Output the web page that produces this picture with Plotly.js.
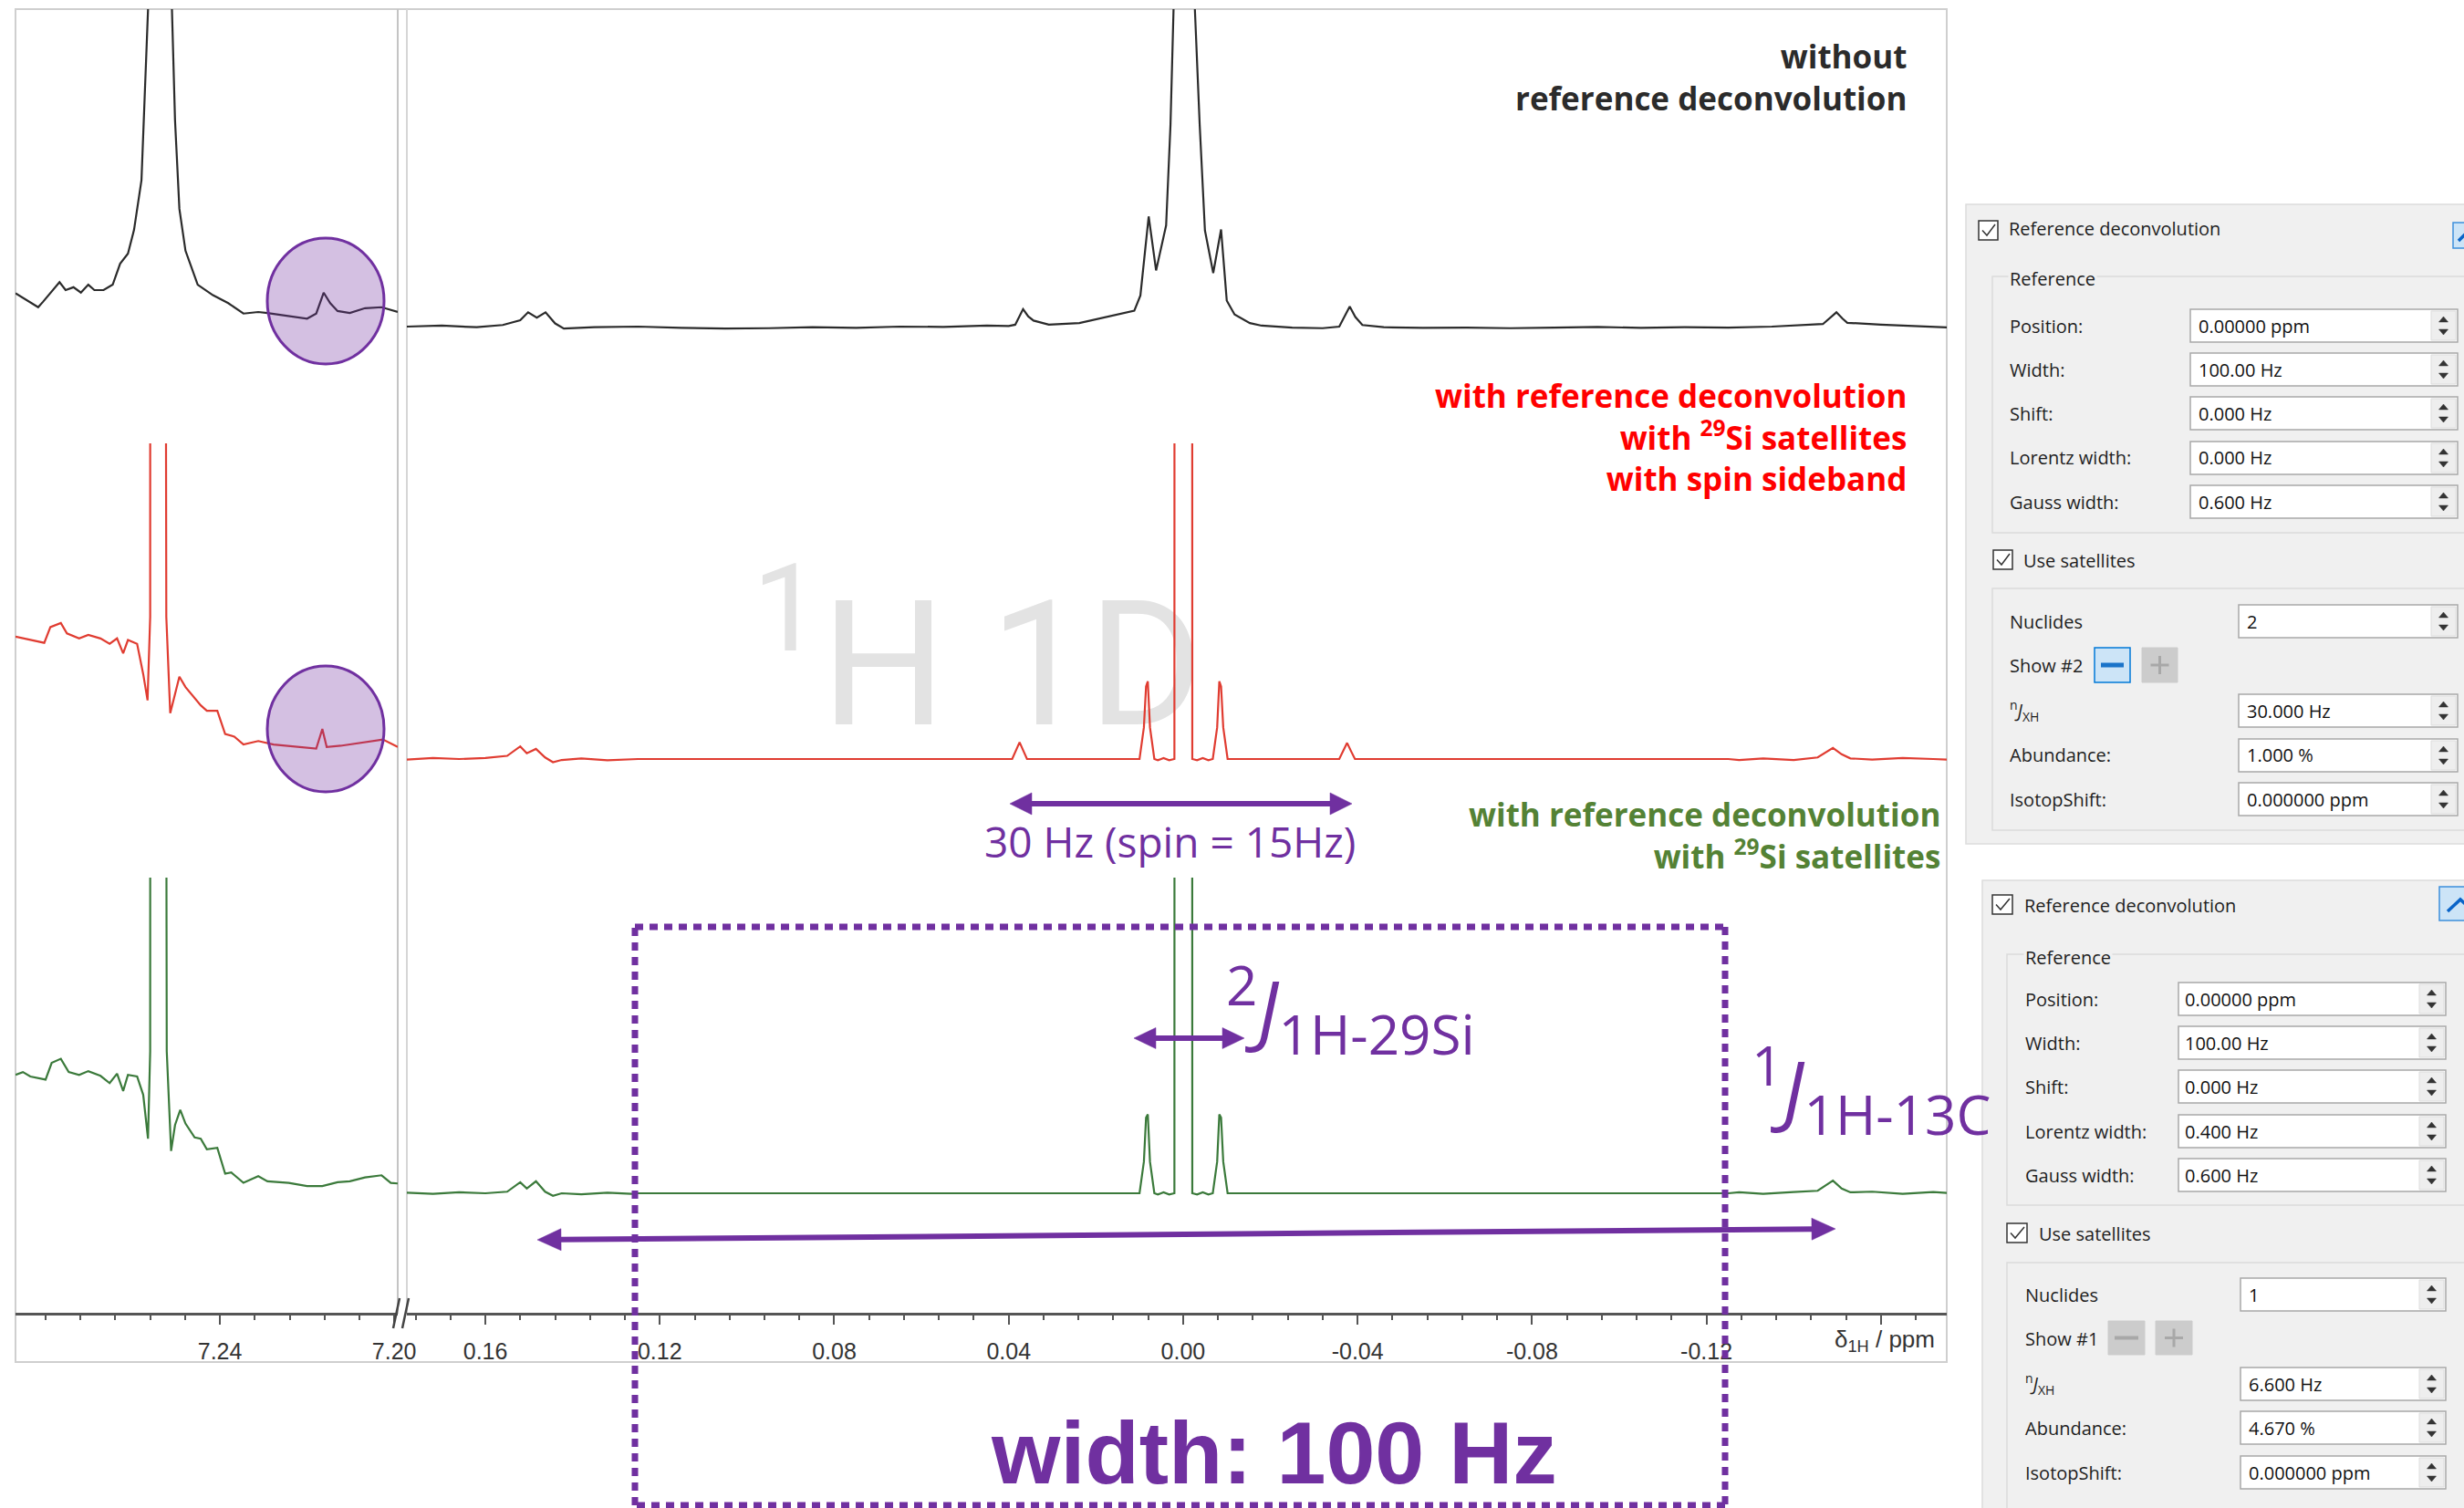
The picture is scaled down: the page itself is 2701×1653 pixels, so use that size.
<!DOCTYPE html>
<html><head><meta charset="utf-8">
<script src="https://cdn.plot.ly/plotly-3.0.1.min.js"></script>
<style>html,body{margin:0;padding:0;background:#fff;overflow:hidden}</style>
</head><body><div id="chart" style="width:2701px;height:1653px"></div>
<script>
const W=2701,H=1653;
// ---------------- DATA (ppm, intensity) ----------------
const blackLeftPpm=[7.2869,7.2841,7.2817,7.2806,7.2789,7.2768,7.2754,7.2736,7.2719,7.2702,7.2688,7.2667,7.2646,7.2629,7.2611,7.2597,7.2580,7.2573,7.2565,7.2540,7.2510,7.2503,7.2493,7.2479,7.2451,7.2416,7.2381,7.2346,7.2312,7.2291,7.2242,7.2200,7.2179,7.2162,7.2147,7.2130,7.2102,7.2067,7.2029,7.2012,7.1992];
const blackLeftInt=[10.5,8.2,6.1,7.8,10.7,14.0,11.5,12.4,10.7,13.2,11.5,11.5,13.2,19.8,23.0,30.5,46.1,70.0,99.6,400,99.6,65.0,37.1,23.9,13.2,9.9,7.4,4.1,4.6,4.3,3.3,2.5,4.1,10.7,7.4,4.9,4.3,5.8,6.1,5.4,4.6];
const blackRightPpm=[0.178,0.170,0.162,0.156,0.152,0.1502,0.1482,0.1462,0.1440,0.1420,0.135,0.125,0.115,0.105,0.095,0.085,0.075,0.065,0.055,0.045,0.040,0.0385,0.0367,0.0355,0.0343,0.0320,0.0308,0.0238,0.0168,0.0133,0.0112,0.0098,0.0079,0.0062,0.0039,0.0029,0.0022,0.0000,-0.0027,-0.0038,-0.0050,-0.0069,-0.0087,-0.0100,-0.0118,-0.0153,-0.0180,-0.0250,-0.0320,-0.0358,-0.0382,-0.0395,-0.0411,-0.0460,-0.055,-0.065,-0.075,-0.085,-0.095,-0.105,-0.115,-0.125,-0.135,-0.1467,-0.1498,-0.1512,-0.1523,-0.160,-0.166,-0.172,-0.176];
const blackRightInt=[0.0,0.3,-0.2,0.5,2.0,4.5,2.8,4.5,1.0,-0.6,-0.2,0.0,-0.4,-0.6,-0.5,-0.2,-0.4,0.0,-0.1,0.3,0.2,0.6,5.5,3.2,1.9,1.0,0.6,1.1,3.2,4.3,5.0,9.8,34.7,17.7,31.9,63.5,99.8,500,99.8,63.5,30.3,16.9,30.6,8.2,3.8,1.1,0.3,-0.3,-0.5,0.0,6.3,3.0,0.5,-0.2,-0.4,-0.3,-0.5,-0.3,-0.1,-0.4,-0.2,-0.3,0.0,0.8,4.5,2.5,1.2,0.6,0.2,-0.2,-0.3];
const redLeftPpm=[7.2869,7.2835,7.2803,7.2789,7.2765,7.2751,7.2723,7.2702,7.2674,7.2653,7.2636,7.2622,7.2611,7.2590,7.2576,7.2566,7.2560,7.2558,7.2526,7.2523,7.2514,7.2503,7.2493,7.2479,7.2458,7.2444,7.2430,7.2406,7.2388,7.2367,7.2346,7.2312,7.2277,7.2207,7.2179,7.2165,7.2155,7.2123,7.2067,7.2026,7.1992];
const redLeftInt=[38.8,37.7,36.8,41.8,43.1,39.8,38.2,39.3,38.2,36.5,38.2,33.5,37.7,36.5,26.9,18.6,45,3000,3000,45,14.5,20.3,26.1,22.8,19.5,17.0,15.3,15.3,7.9,7.1,4.6,5.7,4.6,3.8,3.3,9.5,3.8,4.2,5.4,6.2,3.8];
const redRightPpm=[0.178,0.172,0.166,0.160,0.155,0.152,0.1505,0.1484,0.1463,0.1445,0.1425,0.138,0.132,0.1265,0.1250,0.0392,0.0384,0.0375,0.0366,0.0358,0.0100,0.0090,0.0085,0.0081,0.0076,0.0066,0.0058,0.0045,0.0032,0.0020,0.0016,-0.0017,-0.0021,-0.0032,-0.0045,-0.0058,-0.0068,-0.0078,-0.0083,-0.0087,-0.0092,-0.0102,-0.0358,-0.0367,-0.0376,-0.0385,-0.0394,-0.1250,-0.1275,-0.133,-0.140,-0.1455,-0.1490,-0.1510,-0.1530,-0.158,-0.165,-0.172,-0.176];
const redRightInt=[-0.2,0.3,0.0,0.3,1.0,4.0,1.8,3.2,0.5,-1.0,-0.3,0.2,-0.4,0.0,0.0,0.0,2.5,5.3,2.5,0.0,0.0,10,23,24.6,10,0.0,-0.4,0.3,-0.4,0.0,3000,3000,0.0,-0.4,0.3,-0.4,0.0,10,24.6,23,10,0.0,0.0,2.5,5.1,2.5,0.0,0.0,-0.3,0.2,-0.3,0.5,3.5,1.5,0.2,-0.2,0.3,0.0,-0.2];
const greenLeftPpm=[7.2869,7.2852,7.2835,7.2800,7.2786,7.2765,7.2747,7.2723,7.2702,7.2674,7.2653,7.2636,7.2622,7.2611,7.2590,7.2576,7.2565,7.2560,7.2557,7.2526,7.2522,7.2512,7.2503,7.2491,7.2479,7.2458,7.2444,7.2430,7.2406,7.2388,7.2374,7.2346,7.2312,7.2291,7.2242,7.2200,7.2165,7.2130,7.2102,7.2067,7.2029,7.2008,7.1992];
const greenLeftInt=[37.5,38.4,37.0,36.0,41.3,42.6,38.4,37.5,38.7,37.2,34.9,37.9,32.4,37.5,37.0,31.2,17.3,45,3000,3000,45,13.4,21.6,26.4,22.1,17.7,17.3,13.9,14.4,6.2,6.6,3.3,5.4,3.8,3.3,2.3,2.3,3.5,3.8,5.0,5.7,3.3,3.1];
const greenRightPpm=[0.178,0.172,0.166,0.160,0.155,0.152,0.1505,0.1484,0.1463,0.1445,0.1425,0.138,0.132,0.1265,0.1250,0.0100,0.0090,0.0085,0.0081,0.0076,0.0066,0.0058,0.0045,0.0032,0.0020,0.0016,-0.0017,-0.0021,-0.0032,-0.0045,-0.0058,-0.0068,-0.0078,-0.0083,-0.0087,-0.0092,-0.0102,-0.1250,-0.1275,-0.133,-0.140,-0.1455,-0.1490,-0.1510,-0.1530,-0.158,-0.165,-0.172,-0.176];
const greenRightInt=[0.2,-0.2,0.3,0.0,0.5,3.5,1.5,3.8,0.5,-0.8,0.0,-0.3,0.2,-0.2,0.0,0.0,10,24,25,10,0.0,-0.4,0.3,-0.4,0.0,3000,3000,0.0,-0.4,0.3,-0.4,0.0,10,25,24,10,0.0,0.0,0.3,-0.2,0.4,0.8,4.0,1.5,0.3,0.5,-0.2,0.4,0.0];
// tick labels
const leftTickVals=[7.24,7.20], leftTickText=['7.24','7.20'];
const rightTickVals=[0.16,0.12,0.08,0.04,0,-0.04,-0.08,-0.12,-0.16];
const rightTickText=['0.16','0.12','0.08','0.04','0.00','-0.04','-0.08','-0.12',' '];
// panel texts
const rowLabels=['Position:','Width:','Shift:','Lorentz width:','Gauss width:'];
const panel1Values=['0.00000 ppm','100.00 Hz','0.000 Hz','0.000 Hz','0.600 Hz'];
const panel1Sat=['2','Show #2','30.000 Hz','1.000 %','0.000000 ppm'];
const panel2Values=['0.00000 ppm','100.00 Hz','0.000 Hz','0.400 Hz','0.600 Hz'];
const panel2Sat=['1','Show #1','6.600 Hz','4.670 %','0.000000 ppm'];
const blackLabel=['without','reference deconvolution'];
const redLabel=['with reference deconvolution','with <sup>29</sup>Si satellites','with spin sideband'];
const greenLabel=['with reference deconvolution','with <sup>29</sup>Si satellites'];

// ---------------- helpers ----------------
const X=p=>p/W, Y=p=>1-p/H;
const shapes=[], ann=[];
const UI='Open Sans, Noto Sans, sans-serif';
const PURPLE='#7030a0';
function R(x0,y0,x1,y1,fill,lc,lw,layer,dash){shapes.push({type:'rect',xref:'paper',yref:'paper',x0:X(x0),x1:X(x1),y0:Y(y1),y1:Y(y0),fillcolor:fill||'rgba(0,0,0,0)',line:{color:lc||'rgba(0,0,0,0)',width:(lw===undefined?1:lw),dash:dash||'solid'},layer:layer||'above'});}
function L(x0,y0,x1,y1,c,w,dash,layer){shapes.push({type:'line',xref:'paper',yref:'paper',x0:X(x0),y0:Y(y0),x1:X(x1),y1:Y(y1),line:{color:c,width:w,dash:dash||'solid'},layer:layer||'above'});}
function P(pts,fill,lc,lw,closed){const d=pts.map((p,i)=>(i?'L':'M')+X(p[0]).toFixed(6)+','+Y(p[1]).toFixed(6)).join('')+(closed===false?'':'Z');shapes.push({type:'path',xref:'paper',yref:'paper',path:d,fillcolor:fill||'rgba(0,0,0,0)',line:{color:lc||'rgba(0,0,0,0)',width:lw||0}});}
function T(text,x,y,size,color,anchor,extra){const a={xref:'paper',yref:'paper',x:X(x),y:Y(y),text:text,showarrow:false,xanchor:anchor||'left',yanchor:'middle',font:{family:UI,size:size,color:color}};if(extra)Object.assign(a,extra);if(extra&&extra.font)a.font=Object.assign({family:UI,size:size,color:color},extra.font);ann.push(a);}
function DA(x1,y1,x2,y2,lw,hl,hw,c){const dx=x2-x1,dy=y2-y1,l=Math.hypot(dx,dy),ux=dx/l,uy=dy/l,nx=-uy,ny=ux;
 L(x1+ux*hl*0.9,y1+uy*hl*0.9,x2-ux*hl*0.9,y2-uy*hl*0.9,c,lw);
 P([[x1,y1],[x1+ux*hl+nx*hw/2,y1+uy*hl+ny*hw/2],[x1+ux*hl-nx*hw/2,y1+uy*hl-ny*hw/2]],c,c,0.5);
 P([[x2,y2],[x2-ux*hl+nx*hw/2,y2-uy*hl+ny*hw/2],[x2-ux*hl-nx*hw/2,y2-uy*hl-ny*hw/2]],c,c,0.5);}

// ---------------- frame ----------------
R(17,10,2134,1493,'rgba(0,0,0,0)','#cfcfcf',2,'below');
L(436,10,436,1440,'#c4c4c4',2,'solid','below');
L(446,10,446,1440,'#d6d6d6',2,'solid','below');
L(431,1456,438,1423,'#444',2.5);
L(441,1456,448,1423,'#444',2.5);

// circles
shapes.push({type:'circle',xref:'paper',yref:'paper',x0:X(293),x1:X(421),y0:Y(399),y1:Y(261),fillcolor:'rgba(112,48,160,0.3)',line:{color:PURPLE,width:3}});
shapes.push({type:'circle',xref:'paper',yref:'paper',x0:X(293),x1:X(421),y0:Y(868),y1:Y(730),fillcolor:'rgba(112,48,160,0.3)',line:{color:PURPLE,width:3}});

// dotted box
L(696,1016,1891,1016,PURPLE,7,'9px,7px');
L(1891,1016,1891,1650,PURPLE,7,'9px,7px');
L(1891,1650,696,1650,PURPLE,7,'9px,7px');
L(696,1650,696,1016,PURPLE,7,'9px,7px');

// arrows
DA(1107,881,1482,881,6,24,24,PURPLE);
DA(1243,1138,1364,1138,6,24,23,PURPLE);
DA(589,1359,2012,1347,6,26,24,PURPLE);

// ---------------- annotations ----------------
const BOLD={align:'right',font:{weight:700}};
T(blackLabel.join('<br>'),2092,85,35,'#2b2b2b','right',BOLD);
T(redLabel.join('<br>'),2092,479,35,'#ff0000','right',BOLD);
T(greenLabel.join('<br>'),2129,915,35,'#548235','right',BOLD);
T('30 Hz (spin = 15Hz)',1282,922,46,PURPLE,'center');
T('<sup>2</sup><i>J</i><sub>1H-29Si</sub>',1342,1106,86,PURPLE,'left');
T('<sup>1</sup><i>J</i><sub>1H-13C</sub>',1918,1194,86,PURPLE,'left');
T('width: 100 Hz',1396,1592,97,PURPLE,'center',{font:{family:'Liberation Sans, Arial, sans-serif',weight:700}});
T('δ<sub>1H</sub> / ppm',2066,1469,26,'#333','center',{font:{family:'Liberation Sans Narrow, Liberation Sans, sans-serif'}});

// ---------------- UI panels ----------------
function spinBox(x0,x1,y){R(x0,y-18,x1,y+18,'#ffffff','#a8a8a8',1.5);
 R(x1-29,y-16,x1-2,y+16,'#eeeeee','#dddddd',1);
 const cx=x1-15.5;
 P([[cx-5,y-4],[cx+5,y-4],[cx,y-10]],'#333','#333',0.5);
 P([[cx-5,y+4],[cx+5,y+4],[cx,y+10]],'#333','#333',0.5);}
function checkBox(x0,y0,x1,y1){R(x0,y0,x1,y1,'#ffffff','#333333',1.5);
 P([[x0+4,(y0+y1)/2],[x0+9,y1-5],[x1-3,y0+4]],null,'#333',1.5,false);}
function panel(c,vals,sat){
 R(c.bg[0],c.bg[1],c.bg[2],c.bg[3],'#f0f0f0','#dcdcdc',1.5,'below');
 checkBox(...c.cb); T('Reference deconvolution',c.title[0],c.title[1],20,'#1e1e1e','left');
 R(c.btn[0],c.btn[1],c.btn[2],c.btn[3],'#cce4f7','#3c8fdc',1.5);
 P(c.chev,null,'#0a64c8',3.5,false);
 R(c.grp1[0],c.grp1[1],c.grp1[2],c.grp1[3],'rgba(0,0,0,0)','#dadada',1.5);
 T('Reference',c.labX,c.grp1[1]+3,20,'#1e1e1e','left',{bgcolor:'#f0f0f0'});
 c.rows.forEach((y,i)=>{T(rowLabels[i],c.labX,y,20,'#1e1e1e','left');spinBox(c.box[0],c.box[1],y);T(vals[i],c.valX,y,20,'#111','left');});
 checkBox(...c.cb2); T('Use satellites',c.cb2t[0],c.cb2t[1],20,'#1e1e1e','left');
 R(c.grp2[0],c.grp2[1],c.grp2[2],c.grp2[3],'rgba(0,0,0,0)','#dadada',1.5);
 T('Nuclides',c.labX,c.nucY,20,'#1e1e1e','left'); spinBox(c.nucBox[0],c.box[1],c.nucY); T(sat[0],c.nucBox[0]+7,c.nucY,20,'#111','left');
 T(sat[1],c.labX,c.showY,20,'#1e1e1e','left');
 const m=c.minus,p=c.plus,my=(m[1]+m[3])/2;
 if(c.active){R(m[0],m[1],m[2],m[3],'#cce4f7','#0078d7',1.5);L(m[0]+7,my,m[2]-7,my,'#1a73c9',5);}
 else{R(m[0],m[1],m[2],m[3],'#cccccc','#cccccc',1);L(m[0]+7,my,m[2]-7,my,'#a8a8a8',4);}
 R(p[0],p[1],p[2],p[3],'#cccccc','#cccccc',1);
 const pcx=(p[0]+p[2])/2; L(pcx-10,my,pcx+10,my,'#a8a8a8',3); L(pcx,my-10,pcx,my+10,'#a8a8a8',3);
 T('<sup>n</sup><i>J</i><sub>XH</sub>',c.labX,c.jY,20,'#1e1e1e','left'); spinBox(c.nucBox[0],c.box[1],c.jY); T(sat[2],c.nucBox[0]+7,c.jY,20,'#111','left');
 T('Abundance:',c.labX,c.abY,20,'#1e1e1e','left'); spinBox(c.nucBox[0],c.box[1],c.abY); T(sat[3],c.nucBox[0]+7,c.abY,20,'#111','left');
 T('IsotopShift:',c.labX,c.isoY,20,'#1e1e1e','left'); spinBox(c.nucBox[0],c.box[1],c.isoY); T(sat[4],c.nucBox[0]+7,c.isoY,20,'#111','left');
}
panel({bg:[2155,224,2712,925],cb:[2169,242,2190,263],title:[2200,251],btn:[2689,244,2712,272],chev:[[2695,264],[2708,251],[2715,258]],
 grp1:[2184,303,2712,584],labX:2201,rows:[357,405,453,502,550],box:[2401,2694],valX:2408,
 cb2:[2185,603,2206,624],cb2t:[2216,614],grp2:[2184,645,2712,910],nucY:681,nucBox:[2454],showY:729,
 minus:[2296,710,2335,748],plus:[2348,710,2387,748],active:true,jY:779,abY:828,isoY:876},panel1Values,panel1Sat);
panel({bg:[2173,965,2712,1665],cb:[2184,981,2206,1002],title:[2217,992],btn:[2674,972,2712,1009],chev:[[2683,999],[2697,986],[2711,999]],
 grp1:[2200,1046,2712,1321],labX:2218,rows:[1095,1143,1191,1240,1288],box:[2388,2681],valX:2393,
 cb2:[2200,1341,2222,1362],cb2t:[2233,1352],grp2:[2200,1384,2712,1665],nucY:1419,nucBox:[2456],showY:1467,
 minus:[2311,1448,2351,1485],plus:[2363,1448,2403,1485],active:false,jY:1517,abY:1565,isoY:1614},panel2Values,panel2Sat);

// ---------------- traces ----------------
const ln=(x,y,xa,ya,c)=>({type:'scatter',mode:'lines',x:x,y:y,xaxis:xa,yaxis:ya,line:{color:c,width:2.2},hoverinfo:'skip'});
const traces=[
 ln(blackLeftPpm,blackLeftInt,'x','y','#2b2b2b'),
 ln(blackRightPpm,blackRightInt,'x2','y','#2b2b2b'),
 {type:'scatter',mode:'text',x:[0.0471],y:[25],xaxis:'x2',yaxis:'y2',text:['<sup>1</sup>H 1D'],textposition:'middle center',cliponaxis:false,
  textfont:{family:'Liberation Sans Narrow, Roboto, sans-serif',size:192,color:'#e3e3e3'},hoverinfo:'skip'},
 ln(redLeftPpm,redLeftInt,'x','y2','#e03c31'),
 ln(redRightPpm,redRightInt,'x2','y2','#e03c31'),
 ln(greenLeftPpm,greenLeftInt,'x','y3','#3b7a3b'),
 ln(greenRightPpm,greenRightInt,'x2','y3','#3b7a3b')
];
function minorVals(a,b){const v=[];for(let k=Math.ceil(Math.min(a,b)/0.008-1e-6);k*0.008<=Math.max(a,b)+1e-9;k++)v.push(+(k*0.008).toFixed(4));return v;}
const TF={family:'Liberation Sans Narrow, Liberation Sans, sans-serif',size:25,color:'#333'};
const axBase={anchor:'free',position:1-1440/H,showline:true,linecolor:'#555',linewidth:3,ticks:'outside',ticklen:10,tickwidth:2,tickcolor:'#555',
 tickmode:'array',tickfont:TF,showgrid:false,zeroline:false,fixedrange:true,ticklabelstandoff:8};
const layout={width:W,height:H,margin:{l:0,r:0,t:0,b:0},paper_bgcolor:'#ffffff',plot_bgcolor:'rgba(0,0,0,0)',showlegend:false,
 xaxis:Object.assign({},axBase,{domain:[17/W,436/W],range:[7.2869,7.1992],tickvals:leftTickVals,ticktext:leftTickText,
   minor:{tickmode:'array',tickvals:minorVals(7.1992,7.2869),ticks:'outside',ticklen:5,tickwidth:2,tickcolor:'#555'}}),
 xaxis2:Object.assign({},axBase,{domain:[446/W,2134/W],range:[0.1780,-0.1751],tickvals:rightTickVals,ticktext:rightTickText,
   minor:{tickmode:'array',tickvals:minorVals(-0.1751,0.1780),ticks:'outside',ticklen:5,tickwidth:2,tickcolor:'#555'}}),
 yaxis:{domain:[1-462.4/H,1-10/H],range:[-30,100],visible:false,fixedrange:true},
 yaxis2:{domain:[1-935.8/H,1-486/H],range:[-30,100],visible:false,fixedrange:true},
 yaxis3:{domain:[1-1411.8/H,1-962/H],range:[-30,100],visible:false,fixedrange:true},
 shapes:shapes,annotations:ann};
Plotly.newPlot('chart',traces,layout,{staticPlot:true,displayModeBar:false});
</script></body></html>
